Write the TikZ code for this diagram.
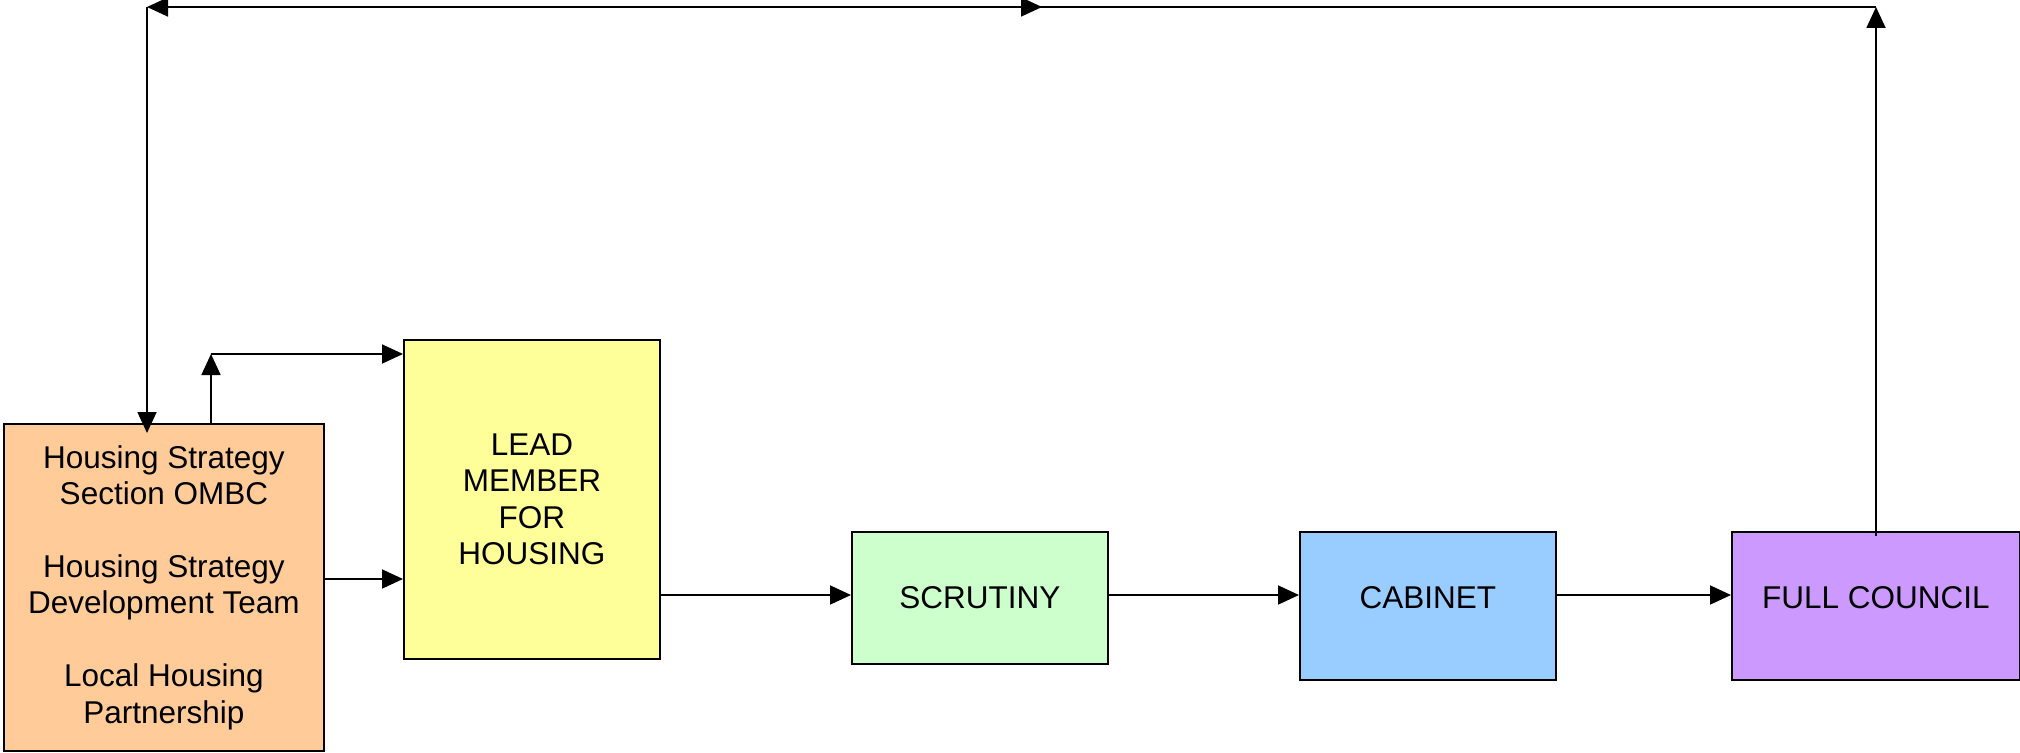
\documentclass[tikz,border=0pt]{standalone}
\usepackage{fontspec}
\setmainfont{Liberation Sans}
\usetikzlibrary{arrows.meta,calc}
\definecolor{cOrange}{HTML}{FFCC99}
\definecolor{cYellow}{HTML}{FFFF99}
\definecolor{cGreen}{HTML}{CCFFCC}
\definecolor{cBlue}{HTML}{99CCFF}
\definecolor{cPurple}{HTML}{CC99FF}
\tikzset{
  box/.style={draw=black, line width=1.8pt, rectangle, anchor=north west, inner sep=0pt, align=center,
    font=\fontsize{31.5}{36.6}\selectfont},
  arr/.style={line width=1.8pt, -{Triangle[length=21pt,width=19pt]}},
  plain/.style={line width=1.8pt}
}
\begin{document}
\begin{tikzpicture}[x=1pt,y=-1pt]
\useasboundingbox (0,0) rectangle (2020,752);
\node[box, fill=cOrange, minimum width=320pt, minimum height=327pt] (orange) at (3,423)
  {Housing Strategy\\Section OMBC\\[36pt]Housing Strategy\\Development Team\\[36pt]Local Housing\\Partnership};
\node[box, fill=cYellow, minimum width=256pt, minimum height=319pt] (lead) at (403,339)
  {LEAD\\MEMBER\\FOR\\HOUSING};
\node[box, fill=cGreen, minimum width=256pt, minimum height=132pt] (scrutiny) at (851,531) {SCRUTINY};
\node[box, fill=cBlue, minimum width=256pt, minimum height=148pt, text depth=16pt] (cabinet) at (1299,531) {CABINET};
\node[box, fill=cPurple, minimum width=288pt, minimum height=148pt, text depth=16pt] (council) at (1731,531) {FULL COUNCIL};

\coordinate (rowy) at (0,595);
\coordinate (ol) at (0,579);
\coordinate (corner1) at (211,354);
\coordinate (topR) at (1876,7);
\coordinate (topL) at (147,7);
\coordinate (midS) at (947,7);
\coordinate (midE) at (1042,7);

% orange -> lead
\draw[arr] (orange.east |- ol) -- (lead.west |- ol);
% orange up -> lead
\draw[arr] (orange.north -| corner1) -- (corner1);
\draw[arr] (corner1) -- (corner1 -| lead.west);
% main row
\draw[arr] (lead.east |- rowy) -- (scrutiny.west |- rowy);
\draw[arr] (scrutiny.east |- rowy) -- (cabinet.west |- rowy);
\draw[arr] (cabinet.east |- rowy) -- (council.west |- rowy);
% return loop
\draw[arr] ([yshift=-5pt]council.north -| topR) -- (topR);
\draw[arr] (topR) -- (topL);
\draw[arr] (topL) -- ([yshift=-10pt]orange.north -| topL);
\draw[arr] (midS) -- (midE);
\end{tikzpicture}
\end{document}
